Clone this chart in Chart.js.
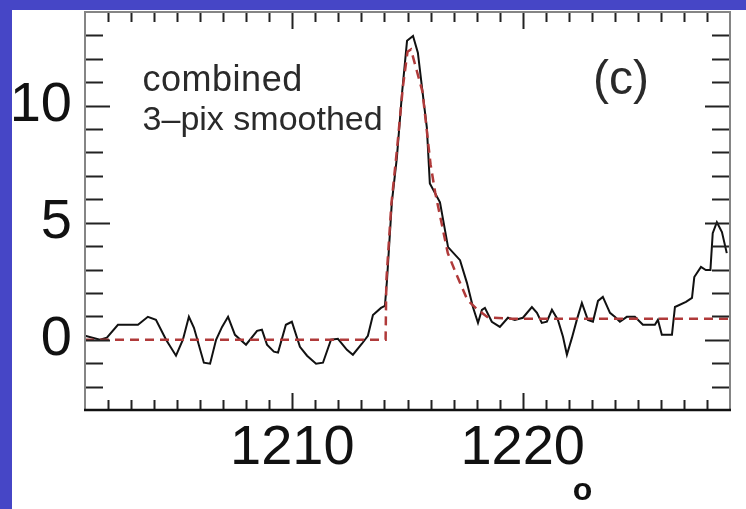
<!DOCTYPE html>
<html lang="en">
<head>
  <meta charset="UTF-8" />
  <title>Lyman alpha – combined</title>
  <script src="https://cdn.jsdelivr.net/npm/chart.js"></script>
  <style>
    body {
      background-color: #4646c6;
      margin: 0;
      padding: 0;
      overflow: hidden;
    }

    canvas {
      display: block;
    }
  </style>
</head>
<body>

  <canvas id="specChart" width="746" height="509"></canvas>

  <script>
    // combined spectrum, 3-pixel smoothed (wavelength in Å, flux)
    const wave = [
      1201.00, 1201.65, 1201.95, 1202.43, 1202.82, 1203.30, 1203.73, 1204.08, 1204.52, 1204.95,
      1205.25, 1205.51, 1205.73, 1206.16, 1206.43, 1206.69, 1206.95, 1207.21, 1207.51, 1207.99,
      1208.47, 1208.68, 1208.90, 1209.20, 1209.38, 1209.72, 1209.98, 1210.33, 1210.64, 1211.03,
      1211.33, 1211.68, 1211.98, 1212.37, 1212.63, 1213.02, 1213.28, 1213.50, 1213.85, 1214.02,
      1214.11, 1214.32, 1214.54, 1214.76, 1214.98, 1215.24, 1215.45, 1215.63, 1215.84, 1215.97,
      1216.41, 1216.76, 1217.28, 1217.58, 1217.84, 1218.06, 1218.23, 1218.36, 1218.66, 1219.01,
      1219.36, 1219.66, 1220.01, 1220.40, 1220.62, 1220.83, 1221.05, 1221.27, 1221.53, 1221.75,
      1221.92, 1222.14, 1222.35, 1222.57, 1222.83, 1223.05, 1223.27, 1223.48, 1223.79, 1224.00,
      1224.22, 1224.52, 1224.87, 1225.22, 1225.74, 1225.87, 1226.04, 1226.48, 1226.61, 1227.09,
      1227.35, 1227.45, 1227.74, 1227.95, 1228.15, 1228.25, 1228.43, 1228.65, 1228.86
    ];
    const flux = [
      0.17, 0.00, 0.09, 0.64, 0.64, 0.64, 0.98, 0.85, 0.00, -0.68,
      0.00, 0.98, 0.51, -0.98, -1.02, 0.00, 0.55, 0.98, 0.21, -0.21,
      0.38, 0.43, -0.21, -0.51, -0.55, 0.64, 0.77, -0.30, -0.68, -1.02,
      -0.98, 0.00, 0.04, -0.43, -0.64, -0.17, 0.17, 1.06, 1.36, 1.45,
      2.55, 5.87, 7.79, 10.51, 12.77, 12.98, 12.26, 10.77, 9.06, 6.68,
      5.87, 3.96, 3.40, 2.43, 1.40, 0.72, 1.28, 1.36, 0.77, 0.55,
      0.94, 0.85, 0.94, 1.40, 1.15, 0.72, 0.77, 1.28, 0.85, 0.13,
      -0.64, 0.09, 0.85, 1.57, 0.85, 0.77, 1.66, 1.83, 1.15, 0.98,
      0.77, 0.98, 0.98, 0.64, 0.64, 0.85, 0.21, 0.21, 1.40, 1.62,
      1.79, 2.68, 3.11, 2.98, 2.98, 4.55, 5.02, 4.60, 3.70
    ];

    // fitted line profile (red dashed)
    const modelWave = [
      1201.0, 1214.05, 1214.08, 1214.3, 1214.55, 1214.8, 1215.0, 1215.15, 1215.4, 1215.65,
      1216.0, 1216.2, 1216.75, 1217.1, 1217.6, 1218.05, 1218.5, 1219.5, 1229.0
    ];
    const modelFlux = [
      0.0, 0.0, 2.5, 5.8, 8.2, 10.8, 12.3, 12.4, 11.5, 10.6,
      7.5, 6.3, 3.7, 2.85, 1.7, 1.28, 0.95, 0.9, 0.9
    ];

    const xRange = [1201, 1229];
    const yRange = [-3, 14];
    const xLabelTicks = [1210, 1220];
    const yLabelTicks = [0, 5, 10];

    const FONT = "'Liberation Sans', Arial, Helvetica, sans-serif";

    // white panel, box and inward ticks on all four sides, text labels
    const framePlugin = {
      id: 'frame',
      beforeDraw(chart) {
        const c = chart.ctx;
        c.save();
        c.fillStyle = '#ffffff';
        c.fillRect(12, 10, chart.width - 12, chart.height - 10);
        c.restore();
      },
      afterDraw(chart) {
        const c = chart.ctx;
        const { left, right, top, bottom } = chart.chartArea;
        const xs = chart.scales.x, ys = chart.scales.y;
        c.save();

        // ticks
        c.strokeStyle = '#222';
        c.lineWidth = 2;
        c.beginPath();
        for (let v = yRange[0] + 1; v < yRange[1]; v++) {
          const py = Math.round(ys.getPixelForValue(v)) + 0.5;
          const len = v % 5 === 0 ? 25 : 18;
          c.moveTo(left, py); c.lineTo(left + len, py);
          c.moveTo(right, py); c.lineTo(right - len, py);
        }
        for (let v = xRange[0] + 1; v < xRange[1]; v++) {
          const px = Math.round(xs.getPixelForValue(v)) + 0.5;
          const len = v % 10 === 0 ? 17 : 10;
          c.moveTo(px, bottom); c.lineTo(px, bottom - len);
          c.moveTo(px, top); c.lineTo(px, top + len);
        }
        c.stroke();

        // box
        c.strokeStyle = '#858585';
        c.lineWidth = 2;
        c.beginPath();
        c.moveTo(left, bottom); c.lineTo(left, top); c.lineTo(right, top); c.lineTo(right, bottom);
        c.stroke();
        c.strokeStyle = '#111';
        c.lineWidth = 2.5;
        c.beginPath();
        c.moveTo(left - 1, bottom); c.lineTo(right + 1, bottom);
        c.stroke();

        // annotations
        c.fillStyle = '#2a2a2a';
        c.textBaseline = 'alphabetic';
        c.textAlign = 'left';
        c.font = '36px ' + FONT;
        c.letterSpacing = '0.5px';
        c.fillText('combined', xs.getPixelForValue(1203.5), ys.getPixelForValue(10.64));
        c.letterSpacing = '0px';
        c.font = '34px ' + FONT;
        c.fillText('3\u2013pix smoothed', xs.getPixelForValue(1203.5), ys.getPixelForValue(8.94));
        c.font = '48px ' + FONT;
        c.fillText('(c)', xs.getPixelForValue(1223.05), ys.getPixelForValue(10.5));

        // ring of the Angstrom sign, cut by the bottom edge
        c.font = 'bold 32px ' + FONT;
        c.textAlign = 'center';
        c.textBaseline = 'top';
        c.fillStyle = '#111';
        c.fillText('o', xs.getPixelForValue(1222.6), chart.height - 34);
        c.restore();
      }
    };

    // keep the plot box fixed: no extra room for edge labels
    function noEdgePadding(s) {
      s.paddingTop = 0;
      s.paddingBottom = 0;
      s.paddingLeft = 0;
      s.paddingRight = 0;
    }

    const ctx = document.getElementById('specChart').getContext('2d');
    const chart = new Chart(ctx, {
      type: 'line',
      data: {
        datasets: [{
          label: 'model',
          data: modelWave.map((w, i) => ({ x: w, y: modelFlux[i] })),
          borderColor: '#b03a3a',
          borderWidth: 2.5,
          borderDash: [9, 6],
          pointRadius: 0,
          tension: 0,
          order: 0
        }, {
          label: 'combined',
          data: wave.map((w, i) => ({ x: w, y: flux[i] })),
          borderColor: '#111111',
          borderWidth: 2,
          pointRadius: 0,
          tension: 0,
          order: 1
        }]
      },
      options: {
        responsive: false,
        animation: false,
        layout: { padding: { top: 12, right: 16, left: 0, bottom: 0 } },
        plugins: {
          legend: { display: false },
          tooltip: { enabled: false }
        },
        scales: {
          x: {
            type: 'linear',
            min: xRange[0],
            max: xRange[1],
            grid: { display: false, drawTicks: false },
            border: { display: false },
            afterFit: s => { s.height = 99; noEdgePadding(s); },
            afterBuildTicks: s => { s.ticks = xLabelTicks.map(v => ({ value: v })); },
            ticks: {
              autoSkip: false,
              maxRotation: 0,
              padding: 5,
              color: '#111',
              font: { family: FONT, size: 56 },
              callback: v => String(v)
            }
          },
          y: {
            min: yRange[0],
            max: yRange[1],
            grid: { display: false, drawTicks: false },
            border: { display: false },
            afterFit: s => { s.width = 85; noEdgePadding(s); },
            afterBuildTicks: s => { s.ticks = yLabelTicks.map(v => ({ value: v })); },
            ticks: {
              autoSkip: false,
              padding: 13,
              color: '#111',
              font: { family: FONT, size: 56 },
              callback: v => String(v)
            }
          }
        }
      },
      plugins: [framePlugin]
    });
  </script>
</body>
</html>
